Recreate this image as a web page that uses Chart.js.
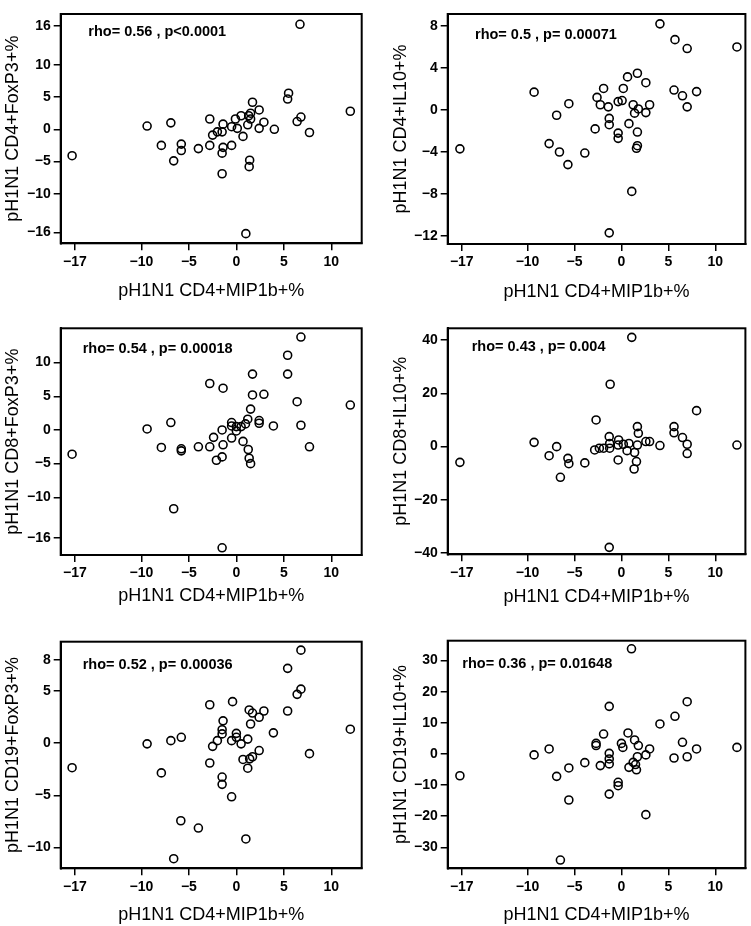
<!DOCTYPE html>
<html>
<head>
<meta charset="utf-8">
<script src="https://cdn.jsdelivr.net/npm/chart.js@4.4.1/dist/chart.umd.min.js"></script>
<style>
  body { margin: 0; background: #fff; width: 751px; height: 926px; position: relative; overflow: hidden; }
  canvas { position: absolute; }
</style>
</head>
<body>
<canvas id="p1"></canvas>
<canvas id="p2"></canvas>
<canvas id="p3"></canvas>
<canvas id="p4"></canvas>
<canvas id="p5"></canvas>
<canvas id="p6"></canvas>
<script>
// shared x axis
const xTitle = 'pH1N1 CD4+MIP1b+%';
const xTicks = [-17, -10, -5, 0, 5, 10];

const yTitles = ['pH1N1 CD4+FoxP3+%', 'pH1N1 CD4+IL10+%', 'pH1N1 CD8+FoxP3+%',
                 'pH1N1 CD8+IL10+%', 'pH1N1 CD19+FoxP3+%', 'pH1N1 CD19+IL10+%'];
const statLabels = ['rho= 0.56 , p<0.0001', 'rho= 0.5 , p= 0.00071', 'rho= 0.54 , p= 0.00018',
                    'rho= 0.43 , p= 0.004', 'rho= 0.52 , p= 0.00036', 'rho= 0.36 , p= 0.01648'];

const cd4FoxP3Ticks = [16, 10, 5, 0, -5, -10, -16];
const cd4Il10Ticks = [8, 4, 0, -4, -8, -12];
const cd8FoxP3Ticks = [10, 5, 0, -5, -10, -16];
const cd8Il10Ticks = [40, 20, 0, -20, -40];
const cd19FoxP3Ticks = [8, 5, 0, -5, -10];
const cd19Il10Ticks = [30, 20, 10, 0, -10, -20, -30];

const cd4FoxP3X = [6.7, -17.3, -9.4, -6.9, -7.9, -6.6, -5.8, -5.8, -4.0, -2.8, -2.8, -2.5, -2.0, -1.5, -1.4,
  -1.5, -1.4, -1.5, -0.5, -0.5, -0.1, 0.1, 0.5, 0.7, 1.0, 1.2, 1.3, 1.5, 1.7, 1.5, 1.4, 1.35, 2.4, 2.4,
  2.9, 4.0, 5.5, 5.4, 6.4, 6.8, 7.7, 12.0];
const cd4FoxP3Y = [16.3, -4.1, 0.5, 1.0, -2.5, -4.9, -2.3, -3.3, -3.0, -2.5, 1.6, -0.9, -0.4, -3.7, -2.8,
  -6.9, 0.8, -0.4, -2.5, 0.4, 1.6, 0.15, 2.1, -1.1, -16.2, 0.7, 2.1, 1.6, 4.2, 2.5, -4.8, -5.8, 3.0, 0.15,
  1.1, 0, 5.6, 4.7, 1.2, 1.9, -0.5, 2.8];

const cd4Il10X = [4.1, 5.7, 7.0, 12.3, -17.2, -9.3, -6.9, -5.6, -7.7, -6.6, -5.7, -3.9, -2.8, -2.6, -2.25,
  -1.9, -1.4, -1.3, -1.3, -1.3, -0.35, 0.07, -0.35, -0.35, 0.2, 0.65, 0.8, 1.25, 1.4, 1.8, 1.7, 1.7, 1.7,
  1.6, 1.1, 2.6, 2.6, 3.0, 5.6, 6.5, 7.0, 8.0];
const cd4Il10Y = [8.2, 6.7, 5.85, 6.0, -3.7, 1.7, -0.5, 0.6, -3.2, -4.0, -5.2, -4.1, -1.8, 1.2, 0.5,
  2.05, 0.3, -0.8, -1.4, -11.7, 0.8, 0.9, -2.2, -2.7, 2.05, 3.15, -1.3, 0.5, -0.3, 0.1, 3.5, -2.1, -3.4,
  -3.65, -7.75, 2.6, -0.25, 0.5, 1.9, 1.35, 0.3, 1.75];

const cd8FoxP3X = [6.8, 5.4, 5.4, 1.7, -2.8, -1.4, 1.7, 2.9, 6.4, 12.0, 1.5, 1.2, 2.4, 2.4, 0.96, -0.5,
  -0.5, 0, 0.5, 0, -1.5, 3.9, 6.8, -9.4, -6.9, -7.9, -5.8, -5.8, -4.0, -2.8, -2.4, -1.4, -0.5, 0.7, 1.25,
  1.35, 1.5, -2.1, -1.5, 7.7, -17.3, -6.6, -1.5];
const cd8FoxP3Y = [13.8, 11.1, 8.3, 8.3, 6.9, 6.2, 5.2, 5.3, 4.2, 3.7, 3.1, 1.6, 1.4, 1.0, 0.9, 1.1,
  0.6, 0.5, 0.5, -0.15, 0, 0.6, 0.7, 0.15, 1.1, -2.6, -2.8, -3.1, -2.5, -2.5, -1.1, -2.2, -1.2, -1.7, -2.9,
  -4.2, -5.0, -4.5, -4.0, -2.5, -3.6, -11.7, -17.5];

const cd8Il10X = [1.1, -1.2, 8.0, -2.7, 1.7, 1.8, 5.6, 5.6, 6.5, 7.0, 7.0, 12.3, 4.1, 2.6, 3.0, 1.7, 1.4,
  1.6, 1.35, 0.8, 0.6, 0.2, -0.3, -0.35, -0.35, -1.3, -1.25, -1.25, -1.9, -2.35, -2.85, -6.9, -9.3, -7.7,
  -5.7, -5.6, -6.5, -3.9, -17.2, -1.3];
const cd8Il10Y = [41, 23.4, 13.5, 10, 7.5, 5, 7.5, 5.2, 3.4, 0.9, -2.6, 0.6, 0.4, 1.9, 1.9, 0.6, -2.2,
  -5.6, -8.4, 1.2, -1.5, 0.9, 2.5, 0.6, -5, 3.75, 1.2, -0.6, -0.6, -0.6, -1.25, 0, 1.6, -3.4,
  -4.4, -6.4, -11.5, -6.1, -5.9, -37.8];

const cd19FoxP3X = [6.8, 5.4, 6.8, 6.4, 5.4, 12.0, 3.9, 7.7, 2.9, 2.4, 1.7, 1.35, 1.5, 1.2, 0.5, 0, 0,
  -0.5, -0.4, -2.8, -1.4, -1.5, -1.5, -2.0, -2.5, -2.8, 2.4, 1.7, 1.4, 0.7, 1.2, -1.5, -1.5, -0.5, 1.0,
  -5.85, -4.0, -6.6, -7.9, -6.9, -5.8, -9.4, -17.3];
const cd19FoxP3Y = [8.95, 7.2, 5.2, 4.7, 3.1, 1.35, 1.0, -1.0, 3.1, 2.5, 2.9, 3.2, 1.85, 0.4, -0.06, 0.95,
  0.57, 0.25, 4.0, 3.7, 2.15, 1.3, 0.9, 0.25, -0.3, -1.9, -0.7, -1.3, -1.5, -1.56, -2.4, -3.25, -3.95,
  -5.15, -9.2, -7.45, -8.15, -11.1, -2.85, 0.25, 0.57, -0.06, -2.35];

const cd19Il10X = [1.07, 7.0, -1.3, 5.7, 4.1, -1.9, 0.7, -2.7, -2.7, 0, 0.15, 1.4, 1.8, 3.0, 2.6, 1.7,
  1.5, 1.6, 1.25, 0.8, -1.3, -1.3, -1.3, -2.25, -3.9, -5.6, -6.9, -5.6, -1.3, -0.35, -0.35, 2.6, -6.5,
  -9.3, -7.7, -17.2, 5.6, 6.5, 7.0, 8.0, 12.3];
const cd19Il10Y = [33.8, 16.8, 15.3, 12.1, 9.65, 6.4, 6.75, 3.4, 2.7, 3.4, 2.1, 4.5, 2.7, 1.6, -0.3, -0.9,
  -3.4, -5.1, -2.7, -4.3, 0.2, -1.6, -3.2, -3.75, -2.8, -4.5, -7.2, -14.8, -12.9, -9.1, -10.2, -19.5, -34.1,
  -0.3, 1.6, -7.0, -1.3, 3.75, -0.9, 1.6, 2.1];

const FONT = "'Liberation Sans', Arial, Helvetica, sans-serif";
const minus = v => String(v).replace('-', '\u2212');

// page layout for each panel
const panels = [
  { id: 'p1', x: cd4FoxP3X, y: cd4FoxP3Y, yTicks: cd4FoxP3Ticks, yMin: -17.7, yMax: 17.9,
    cell: [0, 0, 375, 305], padTop: 14, yW: 60.7, xH: 61.7, yTitlePad: 2, xTitlePad: 3.5, note: [27.6, 18] },
  { id: 'p2', x: cd4Il10X, y: cd4Il10Y, yTicks: cd4Il10Ticks, yMin: -12.76, yMax: 9.14,
    cell: [375, 0, 376, 305], padTop: 14, yW: 72.7, xH: 61, yTitlePad: 15, xTitlePad: 2, note: [27.3, 21] },
  { id: 'p3', x: cd8FoxP3X, y: cd8FoxP3Y, yTicks: cd8FoxP3Ticks, yMin: -18.57, yMax: 15.1,
    cell: [0, 305, 375, 305], padTop: 23.3, yW: 60.7, xH: 55, yTitlePad: 2, xTitlePad: 3, note: [22, 21] },
  { id: 'p4', x: cd8Il10X, y: cd8Il10Y, yTicks: cd8Il10Ticks, yMin: -40.4, yMax: 44.4,
    cell: [375, 305, 376, 305], padTop: 23.3, yW: 72.7, xH: 55.7, yTitlePad: 15, xTitlePad: 2, note: [24, 19] },
  { id: 'p5', x: cd19FoxP3X, y: cd19FoxP3Y, yTicks: cd19FoxP3Ticks, yMin: -12.02, yMax: 9.76,
    cell: [0, 610, 375, 316], padTop: 31.7, yW: 60.7, xH: 57.7, yTitlePad: 2, xTitlePad: 0, note: [22, 23] },
  { id: 'p6', x: cd19Il10X, y: cd19Il10Y, yTicks: cd19Il10Ticks, yMin: -36.75, yMax: 36.4,
    cell: [375, 610, 376, 316], padTop: 30.7, yW: 72.7, xH: 57.7, yTitlePad: 15, xTitlePad: 0, note: [14.6, 23] }
];

const boxPlugin = {
  id: 'box',
  afterDraw(chart, args, opts) {
    const { ctx, chartArea: a } = chart;
    ctx.save();
    ctx.strokeStyle = '#000';
    ctx.lineWidth = 2;
    ctx.strokeRect(a.left, a.top, a.right - a.left, a.bottom - a.top);
    ctx.fillStyle = '#000';
    ctx.font = 'bold 14.5px ' + FONT;
    ctx.textBaseline = 'middle';
    ctx.fillText(opts.text, a.left + opts.dx, a.top + opts.dy);
    ctx.restore();
  }
};

panels.forEach((p, i) => {
  const cv = document.getElementById(p.id);
  const [l, t, w, h] = p.cell;
  cv.width = w; cv.height = h;
  cv.style.left = l + 'px'; cv.style.top = t + 'px';
  const right = i % 2 === 0 ? 13.3 : 5.3;

  const axisCommon = {
    grid: { display: true, drawOnChartArea: false, drawTicks: true, tickLength: 7, color: '#000', lineWidth: 1.5 },
    border: { display: true, color: '#000', width: 2 },
    ticks: { color: '#000', padding: 3, font: { family: FONT, size: 14, weight: 'bold' }, callback: v => minus(v) }
  };

  new Chart(cv, {
    type: 'scatter',
    data: {
      datasets: [{
        data: p.x.map((v, k) => ({ x: v, y: p.y[k] })),
        pointRadius: 4,
        pointBorderWidth: 1.6,
        borderColor: '#000',
        backgroundColor: 'rgba(0,0,0,0)'
      }]
    },
    options: {
      responsive: false,
      animation: false,
      layout: { padding: { top: p.padTop, right: right, left: 0, bottom: 0 } },
      plugins: {
        legend: { display: false },
        tooltip: { enabled: false },
        box: { text: statLabels[i], dx: p.note[0], dy: p.note[1] }
      },
      scales: {
        x: Object.assign({}, axisCommon, {
          type: 'linear', min: -18.5, max: 13.2,
          afterBuildTicks: s => { s.ticks = xTicks.map(v => ({ value: v })); },
          afterFit: s => { s.height = p.xH; },
          title: { display: true, text: xTitle, color: '#000', padding: { top: 0, bottom: p.xTitlePad },
                   font: { family: FONT, size: 18 } }
        }),
        y: Object.assign({}, axisCommon, {
          type: 'linear', min: p.yMin, max: p.yMax,
          afterBuildTicks: s => { s.ticks = p.yTicks.map(v => ({ value: v })); },
          afterFit: s => { s.width = p.yW; },
          title: { display: true, text: yTitles[i], color: '#000', padding: { top: p.yTitlePad, bottom: 0 },
                   font: { family: FONT, size: 18 } }
        })
      }
    },
    plugins: [boxPlugin]
  });
});
</script>
</body>
</html>
